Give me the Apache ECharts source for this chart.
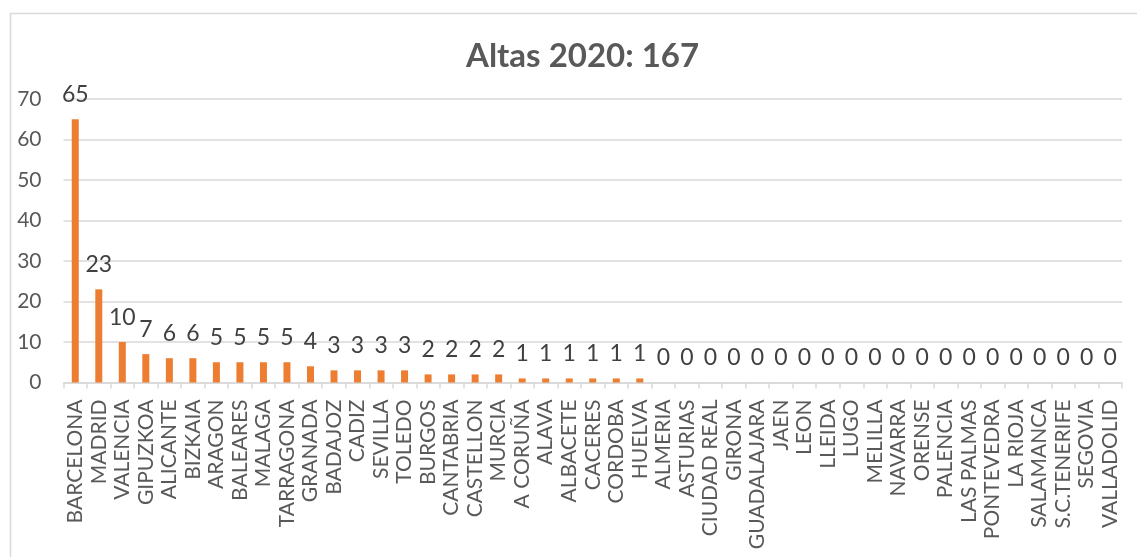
<!DOCTYPE html>
<html>
<head>
<meta charset="utf-8">
<script src="https://cdn.jsdelivr.net/npm/echarts@6/dist/echarts.min.js"></script>
<style>html,body{margin:0;padding:0;background:#fff;}#c{width:1137px;height:557px;}</style>
</head>
<body>
<div id="c"></div>
<script>
const categories = ["BARCELONA","MADRID","VALENCIA","GIPUZKOA","ALICANTE","BIZKAIA","ARAGON","BALEARES","MALAGA","TARRAGONA","GRANADA","BADAJOZ","CADIZ","SEVILLA","TOLEDO","BURGOS","CANTABRIA","CASTELLON","MURCIA","A CORUÑA","ALAVA","ALBACETE","CACERES","CORDOBA","HUELVA","ALMERIA","ASTURIAS","CIUDAD REAL","GIRONA","GUADALAJARA","JAEN","LEON","LLEIDA","LUGO","MELILLA","NAVARRA","ORENSE","PALENCIA","LAS PALMAS","PONTEVEDRA","LA RIOJA","SALAMANCA","S.C.TENERIFE","SEGOVIA","VALLADOLID"];
const altas = [65,23,10,7,6,6,5,5,5,5,4,3,3,3,3,2,2,2,2,1,1,1,1,1,1,0,0,0,0,0,0,0,0,0,0,0,0,0,0,0,0,0,0,0,0];
const titleText = "Altas 2020: 167";

const chart = echarts.init(document.getElementById('c'));
const font = 'Lato, "Open Sans", sans-serif';
chart.setOption({
  animation: false,
  graphic: [{
    type: 'rect', left: 8, top: 11,
    shape: { width: 1200, height: 600 },
    style: { fill: 'none', stroke: '#d9d9d9', lineWidth: 1.5 },
    silent: true
  }],
  title: {
    text: titleText, left: 461, top: 35,
    textStyle: { fontFamily: font, fontSize: 33, fontWeight: 'bold', color: '#595959' }
  },
  grid: { left: 63.5, right: 15, top: 99, bottom: 174.5, containLabel: false },
  xAxis: {
    type: 'category', data: categories,
    axisLine: { lineStyle: { color: '#d9d9d9', width: 1.5 } },
    axisTick: { show: true, alignWithLabel: false, length: 6, lineStyle: { color: '#d9d9d9', width: 1.5 } },
    axisLabel: { rotate: 90, interval: 0, margin: 17, fontFamily: font, fontSize: 21, color: '#595959' }
  },
  yAxis: {
    type: 'value', min: 0, max: 70, interval: 10,
    axisLine: { show: false }, axisTick: { show: false },
    splitLine: { lineStyle: { color: '#d9d9d9', width: 1.5 } },
    axisLabel: { margin: 22, fontFamily: font, fontSize: 21, color: '#595959' }
  },
  series: [{
    type: 'bar', data: altas, barWidth: 7,
    itemStyle: { color: '#ED7D31' },
    label: { show: true, position: 'top', distance: 13, fontFamily: font, fontSize: 23, color: '#404040' }
  }]
});
</script>
</body>
</html>
